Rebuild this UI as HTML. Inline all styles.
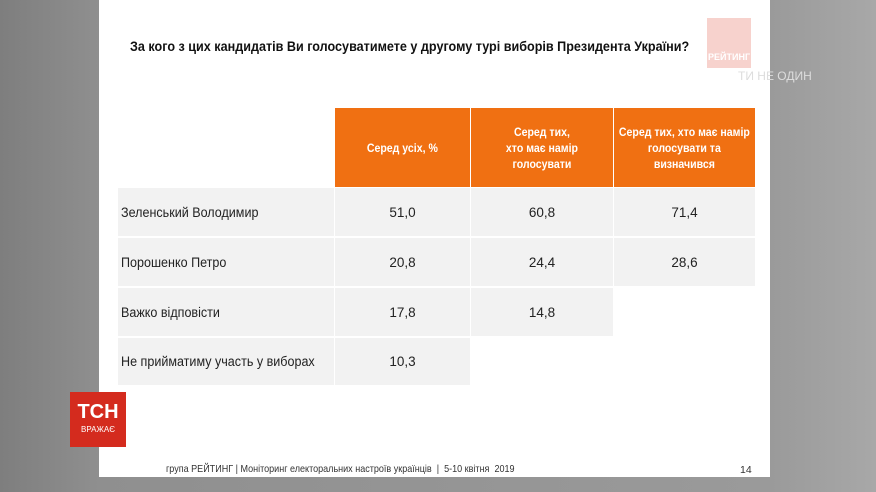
<!DOCTYPE html>
<html><head><meta charset="utf-8"><style>
body{margin:0;width:876px;height:492px;overflow:hidden;position:relative;font-family:"Liberation Sans",sans-serif;
background:linear-gradient(90deg,#7e7e7e 0,#8f8f8f 99px,#9a9a9a 770px,#a8a8a8 876px);}
.slide{position:absolute;left:99px;top:0;width:671px;height:477px;background:#fff;}
.t{position:absolute;font-size:13px;color:#111;white-space:nowrap;transform-origin:left top;}
.c{position:absolute;display:flex;align-items:center;justify-content:center;text-align:center;font-size:13.5px;color:#222;}
.h{background:#f07012;color:#fff;font-weight:bold;font-size:12px;line-height:16px;}
.h span{display:inline-block;transform:scaleX(0.88);white-space:nowrap;}
.g{background:#f2f2f2;}
.l{justify-content:flex-start;padding-left:3px;box-sizing:border-box;}
.l span{display:inline-block;transform:scaleX(0.93);transform-origin:left center;white-space:nowrap;}
</style></head><body>
<div class="slide"></div>
<div class="t" style="left:130px;top:38px;font-weight:bold;font-size:14px;transform:scaleX(0.9);">За кого з цих кандидатів Ви голосуватимете у другому турі виборів Президента України?</div>
<div style="position:absolute;left:707px;top:18px;width:44px;height:50px;background:#f5c7c0;opacity:0.8;"></div>
<div style="position:absolute;left:708px;top:52px;font-size:9px;color:#fff;font-weight:bold">РЕЙТИНГ</div>
<div style="position:absolute;left:738px;top:69px;font-size:12px;color:#ddd;">ТИ НЕ ОДИН</div>

<div class="c h" style="left:335px;top:108px;width:135px;height:79px;"><span>Серед усіх, %</span></div>
<div class="c h" style="left:471px;top:108px;width:142px;height:79px;"><span>Серед тих,<br>хто має намір<br>голосувати</span></div>
<div class="c h" style="left:614px;top:108px;width:141px;height:79px;"><span>Серед тих, хто має намір<br>голосувати та<br>визначився</span></div>

<div class="c g l" style="left:118px;top:188px;width:216px;height:48px;"><span>Зеленський Володимир</span></div>
<div class="c g" style="left:335px;top:188px;width:135px;height:48px;">51,0</div>
<div class="c g" style="left:471px;top:188px;width:142px;height:48px;">60,8</div>
<div class="c g" style="left:614px;top:188px;width:141px;height:48px;">71,4</div>

<div class="c g l" style="left:118px;top:238px;width:216px;height:48px;"><span>Порошенко Петро</span></div>
<div class="c g" style="left:335px;top:238px;width:135px;height:48px;">20,8</div>
<div class="c g" style="left:471px;top:238px;width:142px;height:48px;">24,4</div>
<div class="c g" style="left:614px;top:238px;width:141px;height:48px;">28,6</div>

<div class="c g l" style="left:118px;top:288px;width:216px;height:48px;"><span>Важко відповісти</span></div>
<div class="c g" style="left:335px;top:288px;width:135px;height:48px;">17,8</div>
<div class="c g" style="left:471px;top:288px;width:142px;height:48px;">14,8</div>

<div class="c g l" style="left:118px;top:338px;width:216px;height:47px;"><span>Не прийматиму участь у виборах</span></div>
<div class="c g" style="left:335px;top:338px;width:135px;height:47px;">10,3</div>

<div style="position:absolute;left:70px;top:392px;width:56px;height:55px;background:#d42b1e;color:#fff;text-align:center;">
<div style="font-size:20px;font-weight:bold;margin-top:10px;line-height:20px;">ТСН</div>
<div style="font-size:8px;margin-top:3px;">ВРАЖАЄ</div></div>
<div class="t" style="left:166px;top:463px;font-size:10.5px;color:#333;transform:scaleX(0.86);">група РЕЙТИНГ | Моніторинг електоральних настроїв українців &nbsp;| &nbsp;5-10 квітня &nbsp;2019</div>
<div class="t" style="left:740px;top:464px;font-size:10.5px;color:#333;">14</div>
</body></html>
